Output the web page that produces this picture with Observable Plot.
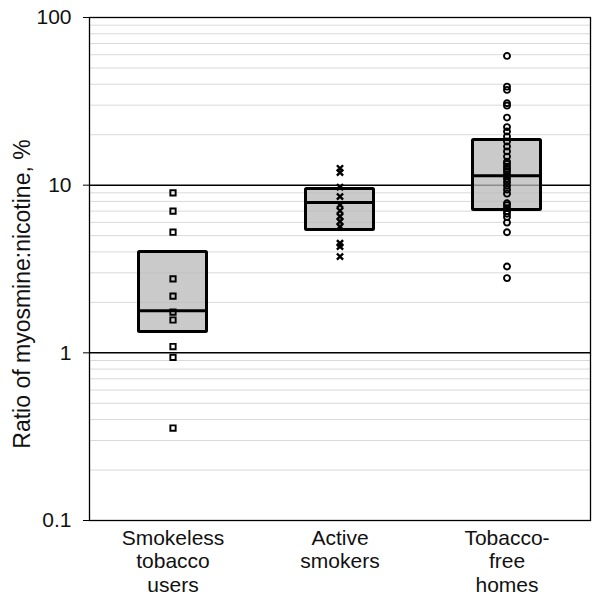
<!DOCTYPE html>
<html>
<head>
<meta charset="utf-8">
<script src="https://cdn.jsdelivr.net/npm/d3@7"></script>
<script src="https://cdn.jsdelivr.net/npm/@observablehq/plot@0.6"></script>
<style>
  html, body { margin: 0; padding: 0; background: #fff; }
  svg { display: block; }
</style>
</head>
<body>
<div id="chart"></div>
<script>
const categories = ["Smokeless tobacco users", "Active smokers", "Tobacco-free homes"];
const xTickLabels = ["Smokeless\ntobacco\nusers", "Active\nsmokers", "Tobacco-\nfree\nhomes"];
const symbols = ["square", "times", "circle"];

const q1 = [1.33, 5.41, 7.12];
const median = [1.78, 7.88, 11.4];
const q3 = [4.0, 9.5, 18.6];

const smokeless = [9.0, 7.0, 5.24, 2.76, 2.18, 1.75, 1.57, 1.09, 0.94, 0.356];
const active = [12.6, 11.9, 9.73, 8.55, 7.63, 7.03, 6.5, 6.07, 5.66, 4.51, 4.3, 3.75];
const tobaccoFree = [59, 38.7, 37, 30.8, 29.8, 25.3, 22.2, 20.9, 19.5, 18.2, 17.0, 15.9, 14.8, 13.8, 13.4, 12.9, 12.5, 12.1, 11.6, 11.3, 10.9, 10.4, 9.9, 9.4, 8.9, 7.8, 7.6, 7.3, 7.0, 6.75, 6.45, 5.98, 5.24, 3.27, 2.79];

const yTicks = [0.1, 1, 10, 100];
const yTickLabels = ["0.1", "1", "10", "100"];
const majorGrid = [1, 10];
const minorGrid = [0.2, 0.3, 0.4, 0.5, 0.6, 0.7, 0.8, 0.9, 2, 3, 4, 5, 6, 7, 8, 9, 20, 30, 40, 50, 60, 70, 80, 90];
const yLabel = "Ratio of myosmine:nicotine, %";

const boxes = categories.map((c, i) => ({cat: c, q1: q1[i], median: median[i], q3: q3[i]}));
const series = [smokeless, active, tobaccoFree];
const points = series.flatMap((vals, i) => vals.map(v => ({cat: categories[i], value: v, symbol: symbols[i]})));

const font = "'Liberation Sans', Arial, sans-serif";
const inset = 49.5;

const chart = Plot.plot({
  width: 597,
  height: 600,
  marginLeft: 89,
  marginRight: 7,
  marginTop: 17,
  marginBottom: 80,
  style: {fontFamily: font, fontSize: "21px", color: "#111", background: "#fff"},
  x: {domain: categories, padding: 0},
  y: {type: "log", domain: [0.1, 100]},
  symbol: {domain: symbols, range: symbols},
  marks: [
    Plot.ruleY(minorGrid, {stroke: "#d9d9d9", strokeWidth: 1}),
    Plot.ruleY(majorGrid, {stroke: "#000", strokeWidth: 1.5}),
    Plot.barY(boxes, {x: "cat", y1: "q1", y2: "q3", insetLeft: inset, insetRight: inset, fill: "#b8b8b8", fillOpacity: 0.75, stroke: "#000", strokeWidth: 3, rx: 1}),
    Plot.tickY(boxes, {x: "cat", y: "median", inset: inset, stroke: "#000", strokeWidth: 3}),
    Plot.dot(points, {x: "cat", y: "value", symbol: "symbol", r: d => d.symbol === "times" ? 2.8 : 3, stroke: "#000", strokeWidth: d => d.symbol === "times" ? 2.4 : 1.9, fill: "none"}),
    Plot.frame({stroke: "#000", strokeWidth: 1.3}),
    Plot.axisY({ticks: yTicks, tickFormat: d => yTickLabels[yTicks.indexOf(d)], tickSize: 6, tickPadding: 12, fontSize: 21, fontVariant: "normal", label: null, stroke: "#000"}),
    Plot.axisX({tickFormat: d => xTickLabels[categories.indexOf(d)], tickSize: 0, tickPadding: 7, fontSize: 21, lineHeight: 1.14, label: null}),
    Plot.text([yLabel], {frameAnchor: "left", dx: -67, dy: 25, rotate: -90, fontSize: 23, textAnchor: "middle", lineAnchor: "middle", text: d => d, fill: "#111"})
  ]
});

document.getElementById("chart").appendChild(chart);
</script>
</body>
</html>
